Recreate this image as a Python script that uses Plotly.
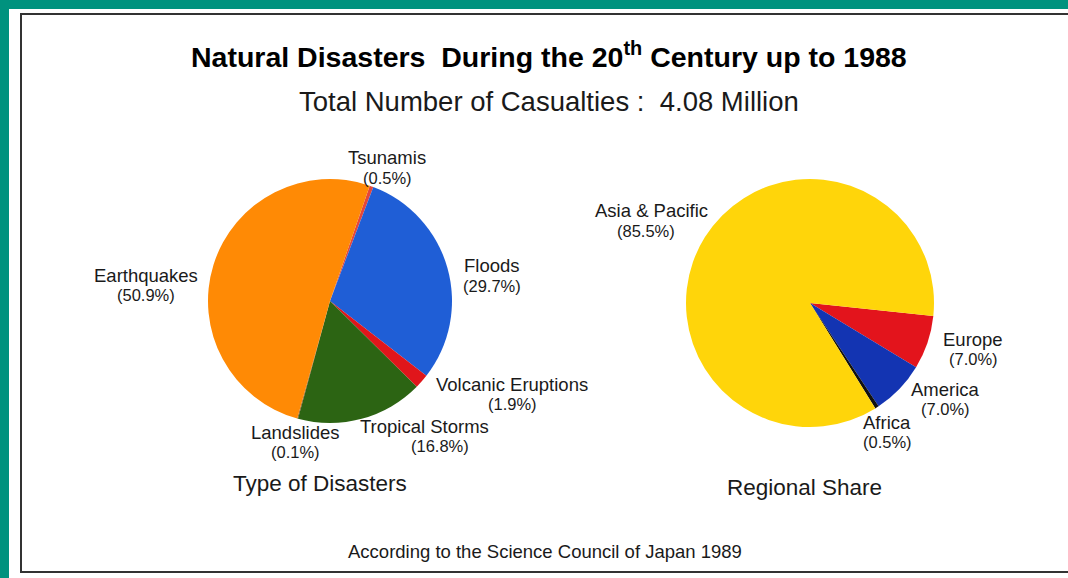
import plotly.graph_objects as go

W, H = 1068, 578

# Casualties by type of disaster (%)
disaster_types = ["Tsunamis", "Floods", "Volcanic Eruptions", "Tropical Storms", "Landslides", "Earthquakes"]
disaster_share = [0.5, 29.7, 1.9, 16.8, 0.1, 50.9]
disaster_colors = ["#E5473B", "#1F5ED6", "#E0161B", "#2C6413", "#7A4A14", "#FF8A05"]

# Casualties by region (%)
regions = ["Europe", "America", "Africa", "Asia & Pacific"]
region_share = [7.0, 7.0, 0.5, 85.5]
region_colors = ["#E3141C", "#1334B2", "#111111", "#FFD50A"]

# label anchor points (pixels) for each slice name
disaster_label_pos = {
    "Tsunamis": (387, 158), "Floods": (492, 266), "Volcanic Eruptions": (512, 384),
    "Tropical Storms": (424, 426), "Landslides": (295, 432), "Earthquakes": (146, 275),
}
region_label_pos = {
    "Asia & Pacific": (651, 211), "Europe": (973, 339), "America": (945, 389), "Africa": (887, 422),
}
pct_offset = {"Tropical Storms": 16, "Asia & Pacific": -5}

FONT = "Arial, Liberation Sans, sans-serif"


def px(x):
    return x / W


def py(y):
    return 1 - y / H


def domain(cx, cy, r):
    return dict(x=[px(cx - r), px(cx + r)], y=[py(cy + r), py(cy - r)])


fig = go.Figure()
fig.add_trace(go.Pie(
    labels=disaster_types, values=disaster_share, sort=False, direction="clockwise",
    rotation=19, marker=dict(colors=disaster_colors, line=dict(width=0)),
    textinfo="none", hoverinfo="label+value", showlegend=False,
    domain=domain(330, 301, 122),
))
fig.add_trace(go.Pie(
    labels=regions, values=region_share, sort=False, direction="clockwise",
    rotation=96, marker=dict(colors=region_colors, line=dict(width=0)),
    textinfo="none", hoverinfo="label+value", showlegend=False,
    domain=domain(810, 303, 124),
))

annotations = []


def label(text, x, y, size, bold=False, color="#1a1a1a"):
    annotations.append(dict(
        text=f"<b>{text}</b>" if bold else text, x=px(x), y=py(y),
        xref="paper", yref="paper", showarrow=False,
        xanchor="center", yanchor="middle",
        font=dict(family=FONT, size=size, color=color),
    ))


for names, shares, positions in ((disaster_types, disaster_share, disaster_label_pos),
                                  (regions, region_share, region_label_pos)):
    for name, share in zip(names, shares):
        x, y = positions[name]
        label(name, x, y, 18.5)
        label(f"({share:.1f}%)", x + pct_offset.get(name, 0), y + 20, 16.5)

label("Natural Disasters  During the 20<sup>th</sup> Century up to 1988", 549, 55, 28.5, bold=True, color="#000")
label("Total Number of Casualties :  4.08 Million", 549, 101, 27.5)
label("Type of Disasters", 320, 483, 22.5)
label("Regional Share", 804, 487, 22.5)
label("According to the Science Council of Japan 1989", 545, 551, 18.5)

shapes = [
    # white page on a teal background
    dict(type="rect", xref="paper", yref="paper", x0=px(9), x1=1.02, y0=-0.02, y1=py(9),
         fillcolor="white", line=dict(width=0), layer="below"),
    # black frame
    dict(type="rect", xref="paper", yref="paper", x0=px(21), x1=1.01, y0=py(572), y1=py(14),
         fillcolor="rgba(0,0,0,0)", line=dict(color="#333", width=2), layer="below"),
]

fig.update_layout(
    width=W, height=H, margin=dict(l=0, r=0, t=0, b=0),
    paper_bgcolor="#00927E", plot_bgcolor="white",
    annotations=annotations, shapes=shapes,
)

fig.write_html("out.html")
